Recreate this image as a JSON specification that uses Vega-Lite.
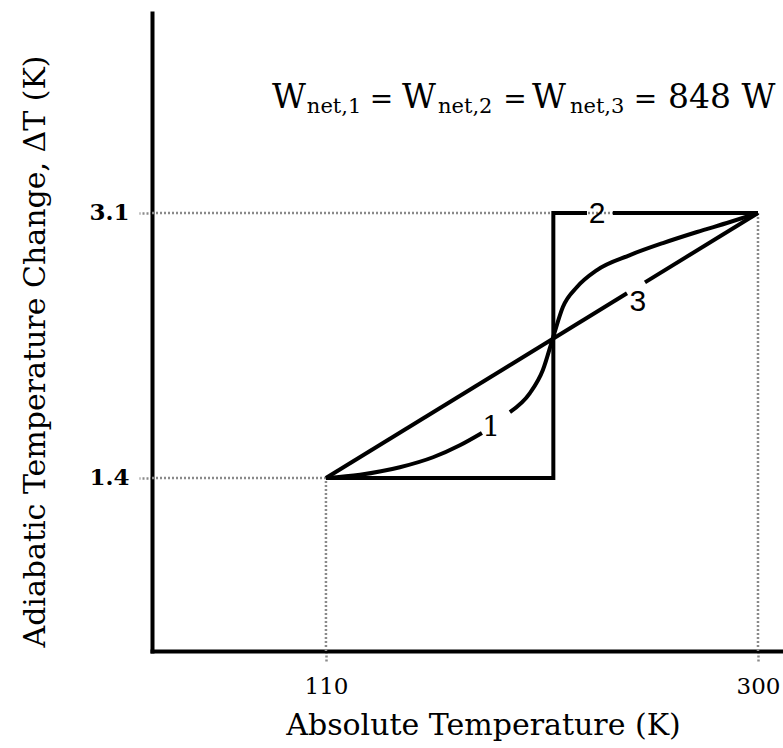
{
  "$schema": "https://vega.github.io/schema/vega-lite/v6.json",
  "autosize": "none",
  "width": 631,
  "height": 638,
  "padding": {"left": 152, "top": 13, "right": 0, "bottom": 97},
  "background": "white",
  "config": {"view": {"stroke": null}},
  "datasets": {
    "curves": [
      {"curve": "1", "seg": "1a", "ord": 1, "T": 110, "dT": 1.4},
      {"curve": "1", "seg": "1a", "ord": 2, "T": 125, "dT": 1.421},
      {"curve": "1", "seg": "1a", "ord": 3, "T": 142.5, "dT": 1.469},
      {"curve": "1", "seg": "1a", "ord": 4, "T": 157.1, "dT": 1.533},
      {"curve": "1", "seg": "1a", "ord": 5, "T": 168.9, "dT": 1.61},
      {"curve": "1", "seg": "1a", "ord": 6, "T": 178.6, "dT": 1.689},
      {"curve": "1", "seg": "1b", "ord": 7, "T": 190.9, "dT": 1.823},
      {"curve": "1", "seg": "1b", "ord": 8, "T": 199.7, "dT": 1.945},
      {"curve": "1", "seg": "1b", "ord": 9, "T": 205.4, "dT": 2.093},
      {"curve": "1", "seg": "1b", "ord": 10, "T": 209.8, "dT": 2.298},
      {"curve": "1", "seg": "1b", "ord": 11, "T": 214.2, "dT": 2.497},
      {"curve": "1", "seg": "1b", "ord": 12, "T": 220.4, "dT": 2.625},
      {"curve": "1", "seg": "1b", "ord": 13, "T": 229.2, "dT": 2.734},
      {"curve": "1", "seg": "1b", "ord": 14, "T": 243.7, "dT": 2.83},
      {"curve": "1", "seg": "1b", "ord": 15, "T": 258.2, "dT": 2.907},
      {"curve": "1", "seg": "1b", "ord": 16, "T": 273.2, "dT": 2.978},
      {"curve": "1", "seg": "1b", "ord": 17, "T": 287.7, "dT": 3.042},
      {"curve": "1", "seg": "1b", "ord": 18, "T": 300, "dT": 3.1},
      {"curve": "2", "seg": "2a", "ord": 1, "T": 110, "dT": 1.4},
      {"curve": "2", "seg": "2a", "ord": 2, "T": 210, "dT": 1.4},
      {"curve": "2", "seg": "2a", "ord": 3, "T": 210, "dT": 3.1},
      {"curve": "2", "seg": "2a", "ord": 4, "T": 224.8, "dT": 3.1},
      {"curve": "2", "seg": "2b", "ord": 5, "T": 236.2, "dT": 3.1},
      {"curve": "2", "seg": "2b", "ord": 6, "T": 300, "dT": 3.1},
      {"curve": "3", "seg": "3a", "ord": 1, "T": 110, "dT": 1.4},
      {"curve": "3", "seg": "3a", "ord": 2, "T": 242.4, "dT": 2.585},
      {"curve": "3", "seg": "3b", "ord": 3, "T": 250.3, "dT": 2.655},
      {"curve": "3", "seg": "3b", "ord": 4, "T": 300, "dT": 3.1}
    ],
    "guides": [
      {"T": 33.5, "T2": 300, "dT": 3.1, "dT2": 3.1},
      {"T": 300, "T2": 300, "dT": 0.29, "dT2": 3.1},
      {"T": 33.5, "T2": 110, "dT": 1.4, "dT2": 1.4},
      {"T": 110, "T2": 110, "dT": 0.29, "dT2": 1.4}
    ],
    "labels": [
      {"label": "1", "T": 182.6, "dT": 1.72},
      {"label": "2", "T": 229.2, "dT": 3.095},
      {"label": "3", "T": 247.2, "dT": 2.529}
    ],
    "titleParts": [
      {"part": "main", "text": "W", "T": 86.25, "dT": 3.7735},
      {"part": "sub", "text": "net,1", "T": 101.6, "dT": 3.741},
      {"part": "eq", "text": "=", "T": 134.43, "dT": 3.7735},
      {"part": "main", "text": "W", "T": 143.4, "dT": 3.7735},
      {"part": "sub", "text": "net,2", "T": 159.3, "dT": 3.741},
      {"part": "eq", "text": "=", "T": 193.14, "dT": 3.7735},
      {"part": "main", "text": "W", "T": 200.6, "dT": 3.7735},
      {"part": "sub", "text": "net,3", "T": 217.3, "dT": 3.741},
      {"part": "eq", "text": "=", "T": 250.53, "dT": 3.7735},
      {"part": "main", "text": "848 W", "T": 260.4, "dT": 3.7735}
    ]
  },
  "encoding": {
    "x": {
      "field": "T", "type": "quantitative",
      "scale": {"domain": [33.5, 311], "nice": false, "zero": false},
      "axis": {
        "values": [110, 300], "grid": false,
        "domainColor": "black", "domainWidth": 4, "domainCap": "square",
        "tickColor": "#8a8a8a", "tickDash": [2, 2], "tickWidth": 2.5, "tickSize": 12,
        "labelFont": "DejaVu Serif", "labelFontSize": 23, "labelColor": "black", "labelPadding": 12,
        "title": "Absolute Temperature (K)",
        "titleFont": "DejaVu Serif", "titleFontSize": 30, "titleFontWeight": "normal", "titleColor": "black",
        "titlePadding": 12, "titleX": 331
      }
    },
    "y": {
      "field": "dT", "type": "quantitative",
      "scale": {"domain": [0.29, 4.383], "nice": false, "zero": false},
      "axis": {
        "values": [1.4, 3.1], "grid": false, "format": ".1f",
        "domainColor": "black", "domainWidth": 4, "domainCap": "square",
        "tickColor": "#8a8a8a", "tickDash": [2, 2], "tickWidth": 2.5, "tickSize": 13,
        "labelFont": "DejaVu Serif", "labelFontSize": 23, "labelFontWeight": "bold", "labelColor": "black", "labelPadding": 10,
        "title": "Adiabatic Temperature Change, ΔT (K)",
        "titleFont": "DejaVu Serif", "titleFontSize": 30, "titleFontWeight": "normal", "titleColor": "black",
        "titlePadding": 38, "titleY": 338
      }
    }
  },
  "layer": [
    {
      "data": {"name": "guides"},
      "mark": {"type": "rule", "color": "#8a8a8a", "strokeWidth": 2.5, "strokeDash": [2, 2]},
      "encoding": {
        "x2": {"field": "T2"},
        "y2": {"field": "dT2"}
      }
    },
    {
      "data": {"name": "curves"},
      "transform": [{"filter": "datum.curve === '1'"}],
      "mark": {"type": "line", "color": "black", "strokeWidth": 4, "interpolate": "monotone", "strokeCap": "butt"},
      "encoding": {
        "detail": {"field": "seg", "type": "nominal"},
        "order": {"field": "ord", "type": "quantitative"}
      }
    },
    {
      "data": {"name": "curves"},
      "transform": [{"filter": "datum.curve !== '1'"}],
      "mark": {"type": "line", "color": "black", "strokeWidth": 4, "strokeJoin": "miter", "strokeCap": "butt"},
      "encoding": {
        "detail": {"field": "seg", "type": "nominal"},
        "order": {"field": "ord", "type": "quantitative"}
      }
    },
    {
      "data": {"name": "labels"},
      "transform": [{"filter": "datum.label === '1'"}],
      "mark": {"type": "text", "font": "DejaVu Serif", "fontSize": 28, "align": "center", "baseline": "middle", "color": "black"},
      "encoding": {"text": {"field": "label"}}
    },
    {
      "data": {"name": "labels"},
      "transform": [{"filter": "datum.label !== '1'"}],
      "mark": {"type": "text", "font": "Liberation Sans", "fontSize": 30, "align": "center", "baseline": "middle", "color": "black"},
      "encoding": {"text": {"field": "label"}}
    },
    {
      "data": {"name": "titleParts"},
      "transform": [{"filter": "datum.part === 'main'"}],
      "mark": {"type": "text", "font": "DejaVu Serif", "fontSize": 33, "align": "left", "baseline": "alphabetic", "color": "black"},
      "encoding": {"text": {"field": "text"}}
    },
    {
      "data": {"name": "titleParts"},
      "transform": [{"filter": "datum.part === 'eq'"}],
      "mark": {"type": "text", "font": "DejaVu Serif", "fontSize": 28, "align": "center", "baseline": "alphabetic", "color": "black"},
      "encoding": {"text": {"field": "text"}}
    },
    {
      "data": {"name": "titleParts"},
      "transform": [{"filter": "datum.part === 'sub'"}],
      "mark": {"type": "text", "font": "DejaVu Serif", "fontSize": 21, "align": "left", "baseline": "alphabetic", "color": "black"},
      "encoding": {"text": {"field": "text"}}
    }
  ]
}
